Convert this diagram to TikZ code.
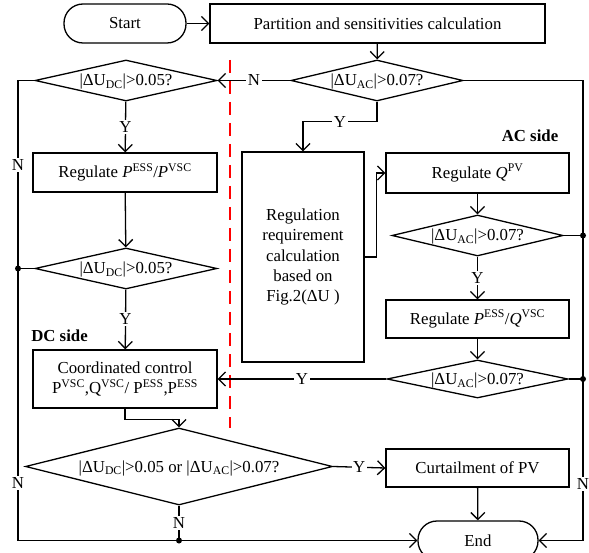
\documentclass[tikz,border=0pt]{standalone}
\usepackage{fontspec}
\setmainfont{Liberation Serif}
\usepackage{tikz}
\usetikzlibrary{shapes.geometric,arrows.meta}

\begin{document}
\begin{tikzpicture}[x=1pt, y=-1pt, line width=1.3pt,
  font=\fontsize{16.8pt}{20.3pt}\selectfont,
  box/.style={draw, rectangle, inner sep=2pt, align=center},
  term/.style={box, rounded corners=19pt, minimum height=39pt},
  decide/.style={draw, diamond, aspect=6, inner sep=0pt, text height=11pt, text depth=0pt},
  lbl/.style={fill=white, inner sep=1.5pt},
  flow/.style={-{Straight Barb[length=7pt, width=14pt]}},
  dot/.style={circle, fill, inner sep=0pt, minimum size=6pt}]

\useasboundingbox (0,0) rectangle (589,553);

\node[term, minimum width=122pt] (start) at (125,23.5) {Start};
\node[box, minimum width=335pt, minimum height=39pt] (part) at (377.5,23.5) {Partition and sensitivities calculation};

\node[decide, minimum width=172pt, minimum height=41pt] (acA) at (377,80.5) {|ΔU\textsubscript{AC}|>0.07?};
\node[decide, minimum width=182pt, minimum height=41pt] (dcA) at (126,80.5) {|ΔU\textsubscript{DC}|>0.05?};
\node[box, minimum width=184pt, minimum height=39pt] (regP) at (125,172.5) {Regulate \textit{P}\textsuperscript{ESS}/\textit{P}\textsuperscript{VSC}};
\node[decide, minimum width=182pt, minimum height=41pt] (dcB) at (126,268.5) {|ΔU\textsubscript{DC}|>0.05?};
\node[font=\fontsize{16.8pt}{20.3pt}\selectfont\bfseries] (dcside) at (59.5,336) {DC side};
\node[box, minimum width=184pt, minimum height=58pt] (coord) at (125,379) {Coordinated control\\P\textsuperscript{VSC},Q\textsuperscript{VSC}/ P\textsuperscript{ESS},P\textsuperscript{ESS}};

\node[box, minimum width=122pt, minimum height=210pt] (regreq) at (303,257) {Regulation\\requirement\\calculation\\based on\\Fig.2(ΔU )};

\node[font=\fontsize{16.8pt}{20.3pt}\selectfont\bfseries] (acside) at (530,136) {AC side};
\node[box, minimum width=183pt, minimum height=40pt] (regQ) at (477.5,173) {Regulate \textit{Q}\textsuperscript{PV}};
\node[decide, minimum width=171pt, minimum height=41pt] (acB) at (477.5,235.5) {|ΔU\textsubscript{AC}|>0.07?};
\node[box, minimum width=183pt, minimum height=38pt] (regPQ) at (477.5,319) {Regulate \textit{P}\textsuperscript{ESS}/\textit{Q}\textsuperscript{VSC}};
\node[decide, minimum width=181pt, minimum height=38pt] (acC) at (477.5,379) {|ΔU\textsubscript{AC}|>0.07?};

\node[decide, minimum width=307pt, minimum height=77pt] (both) at (179,466.5) {|ΔU\textsubscript{DC}|>0.05 or |ΔU\textsubscript{AC}|>0.07?};
\node[box, minimum width=183pt, minimum height=38pt] (curt) at (477.5,468) {Curtailment of PV};
\node[term, minimum width=120pt] (endn) at (478,540.5) {End};

\coordinate (lt) at (18,80.5);
\coordinate (dl) at (18,268.5);
\coordinate (lb) at (18,540.5);
\coordinate (rt) at (583,80.5);
\coordinate (dr2) at (583,235.5);
\coordinate (dr3) at (583,379);
\coordinate (rb) at (583,540.5);
\coordinate (db) at (179,540.5);
\coordinate (divtop) at (230,60);
\coordinate (divbot) at (230,428);

\draw[red, line width=2pt, dash pattern=on 13pt off 8pt] (divtop) -- (divbot);

\draw[flow] (start) -- (part);
\draw[flow] (part) -- (acA);
\draw[flow] (acA.west) -- node[lbl] {N} (dcA.east);
\draw[flow] (acA.south) -- ++(0,20) -| node[lbl, pos=0.25] {Y} (regreq.north);
\draw[flow] (dcA) -- node[lbl] {Y} (regP);
\draw[flow] (regP) -- (dcB);
\draw[flow] (dcB) -- node[lbl] {Y} (coord);
\draw[flow] (regreq.east) -- ++(12,0) |- (regQ.west);
\draw[flow] (regQ) -- (acB);
\draw[flow] (acB) -- node[lbl] {Y} (regPQ);
\draw[flow] (regPQ) -- (acC);
\draw[flow] (acC.west) -- node[lbl] {Y} (coord.east);
\draw[flow] (coord.south) -- ++(0,10.5) -| (both.north);
\draw[flow] (both.east) -- node[lbl] {Y} (curt.west);
\draw[flow] (curt) -- (endn);

\draw (dcA.west) -- (lt) -- node[lbl, pos=0.45] {N} (dl) -- node[lbl, pos=0.79] {N} (lb);
\draw (dcB.west) -- (dl);
\draw[flow] (lb) -- (endn.west);
\draw (acA.east) -- (rt) -- (dr2) -- (dr3) -- node[lbl, pos=0.65] {N} (rb);
\draw (acB.east) -- (dr2);
\draw (acC.east) -- (dr3);
\draw[flow] (rb) -- (endn.east);
\draw (both.south) -- node[lbl] {N} (db);

\node[dot] at (dl) {};
\node[dot] at (dr2) {};
\node[dot] at (dr3) {};
\node[dot] at (db) {};

\end{tikzpicture}
\end{document}
